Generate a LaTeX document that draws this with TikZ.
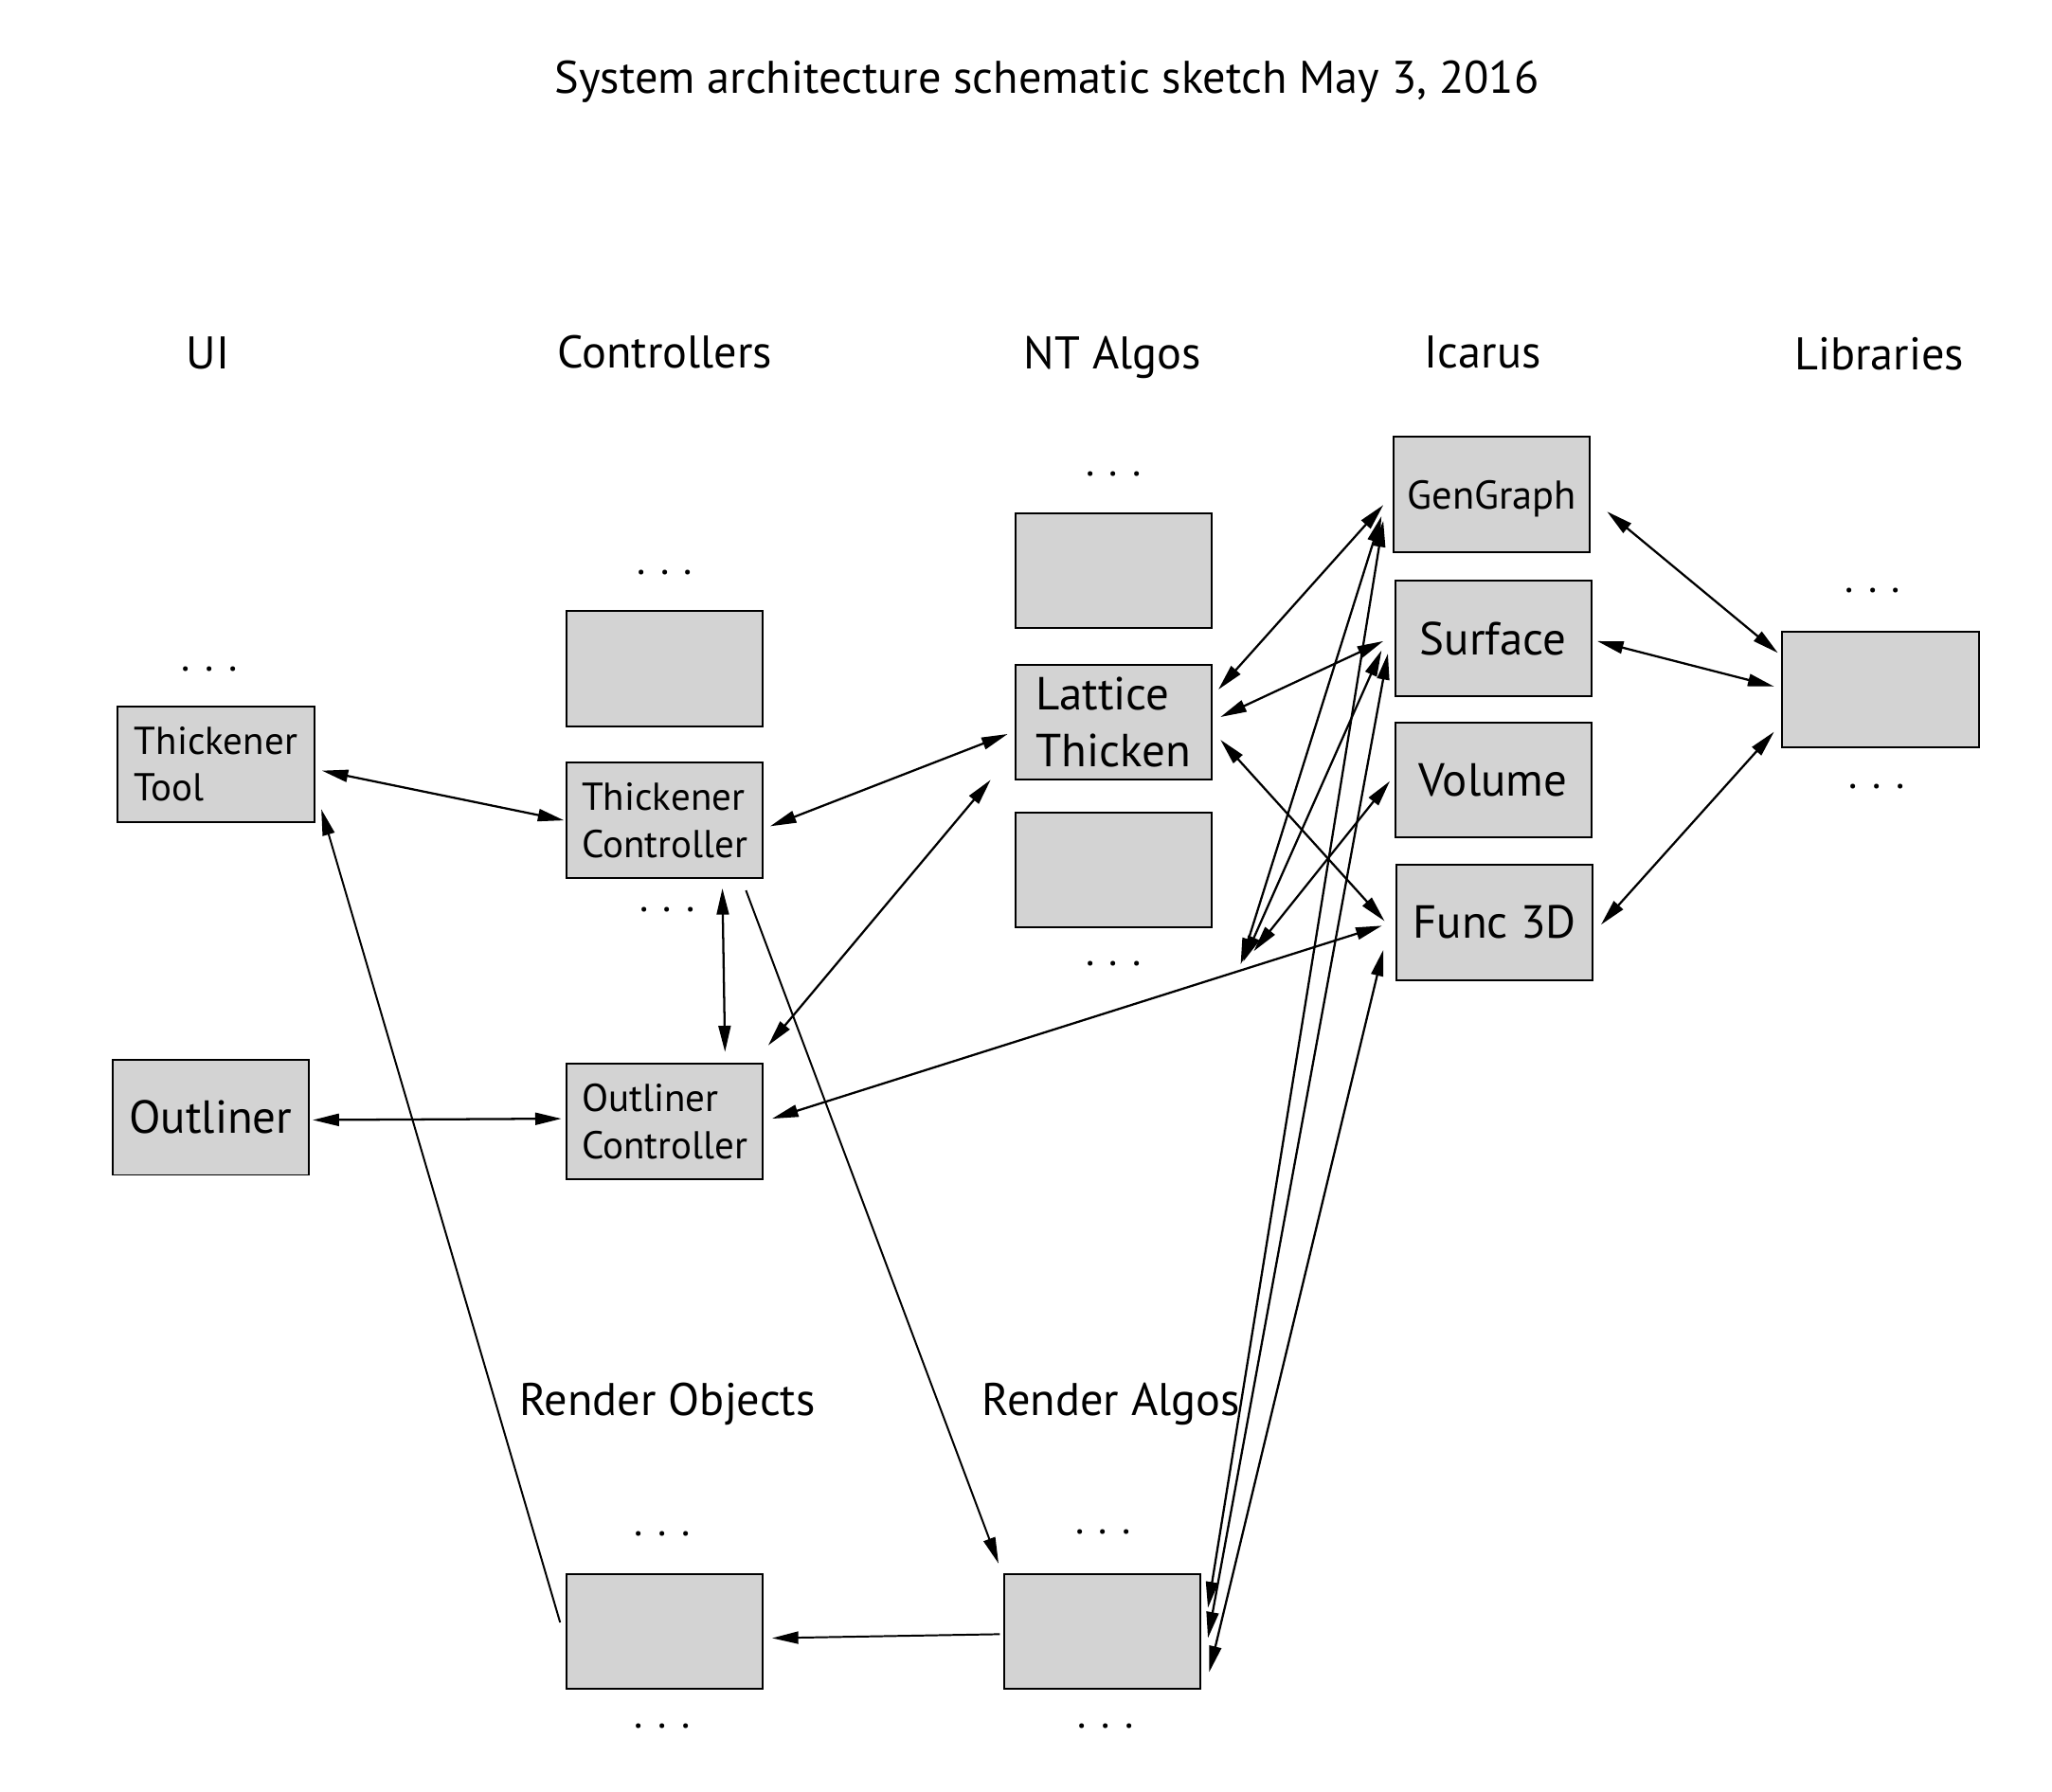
\documentclass[tikz,border=0pt]{standalone}
\usepackage{fontspec}
\setmainfont{PT Sans}
\usetikzlibrary{arrows.meta,calc}
\definecolor{boxgray}{RGB}{211,211,211}
\begin{document}
\begin{tikzpicture}[x=0.7pt,y=-0.7pt,
  box/.style={draw=black, fill=boxgray, line width=1pt, minimum width=105pt, minimum height=61.6pt, inner sep=0pt, outer sep=0pt},
  smalltxt/.style={font=\fontsize{20.8}{25.2}\selectfont},
  ggtxt/.style={font=\fontsize{21.5}{25.2}\selectfont, text depth=0pt},
  bigtxt/.style={font=\fontsize{24.8}{30.8}\selectfont},
  head/.style={font=\fontsize{24.5}{28}\selectfont, anchor=base, inner sep=0pt},
  dots/.style={font=\fontsize{22}{26}\selectfont, anchor=base, inner sep=0pt},
  conn/.style={line width=1.15pt, {Triangle[length=14pt,width=6.5pt]}-{Triangle[length=14pt,width=6.5pt]}},
  oneway/.style={line width=1pt, -{Triangle[length=14pt,width=6.5pt]}}
]
\fill[white] (0,0) rectangle (1568,1369);
\useasboundingbox (0,0) rectangle (1568,1369);

% title and headers
\node[head] (title) at (800,71) {System architecture schematic sketch May 3, 2016};
\node[head] (hUI) at (159,282) {UI};
\node[head] (hCtrl) at (508,281) {Controllers};
\node[head] (hNT) at (850,282) {NT Algos};
\node[head] (hIc) at (1133,281) {Icarus};
\node[head] (hLib) at (1436,283) {Libraries};
\node[head] (hRO) at (510,1082) {Render Objects};
\node[head] (hRA) at (849,1082) {Render Algos};

% boxes
\node[box, smalltxt, align=left] (tt) at (165,584) {Thickener\\Tool};
\node[box, bigtxt] (ol) at (161,854) {Outliner};
\node[box] (c0) at (508,511) {};
\node[box, smalltxt, align=left] (tc) at (508,627) {Thickener\\Controller};
\node[box, smalltxt, align=left] (oc) at (508,857) {Outliner\\Controller};
\node[box] (nt0) at (851,436) {};
\node[box, bigtxt, align=left] (lt) at (851,552) {Lattice\\Thicken};
\node[box] (nt2) at (851,665) {};
\node[box, ggtxt] (gg) at (1140,378) {GenGraph};
\node[box, bigtxt] (sf) at (1141,488) {Surface};
\node[box, bigtxt] (vo) at (1141,596) {Volume};
\node[box, bigtxt] (f3) at (1142,705) {Func 3D};
\node[box] (lib) at (1437,527) {};
\node[box] (ro) at (508,1247) {};
\node[box] (ra) at (842,1247) {};

% dots
\node[dots] (d1) at (160,513) {. . .};
\node[dots] (d2) at (508,439) {. . .};
\node[dots] (d3) at (510,697) {. . .};
\node[dots] (d4) at (851,364) {. . .};
\node[dots] (d5) at (851,738) {. . .};
\node[dots] (d6) at (1431,453) {. . .};
\node[dots] (d7) at (1434,603) {. . .};
\node[dots] (d8) at (506,1174) {. . .};
\node[dots] (d9) at (506,1321) {. . .};
\node[dots] (d10) at (843,1172) {. . .};
\node[dots] (d11) at (845,1321) {. . .};

% connectors
\draw[conn] ([shift={(6,5)}]tt.east) -- ([shift={(-2,0)}]tc.west);
\draw[conn] ([shift={(3,2)}]ol.east) -- ([shift={(-4,-2)}]oc.west);
\draw[conn] ([shift={(44,8)}]tc.south) -- ([shift={(46,-9)}]oc.north);
\draw[conn] ([shift={(5.5,4.5)}]tc.east) -- ([shift={(-6,9)}]lt.west);
\draw[conn] ([shift={(4,-14)}]oc.north east) -- ([shift={(-19,0)}]lt.south west);
\draw[conn] ([shift={(7,-2)}]oc.east) -- ([shift={(-11,2.5)}]f3.west);
\draw[oneway] ([shift={(-5,-7)}]ro.west) -- ([shift={(5.5,34.5)}]tt.east);
\draw[oneway] ([shift={(-13,9.5)}]tc.south east) -- ([shift={(-4,-8)}]ra.north west);
\draw[oneway] ([shift={(-3,2)}]ra.west) -- ([shift={(7,5)}]ro.east);

\draw[conn] ([shift={(5,-25)}]lt.east) -- ([shift={(-8,8)}]gg.west);
\draw[conn] ([shift={(6.6,-4)}]lt.east) -- ([shift={(-9,2)}]sf.west);
\draw[conn] ([shift={(6.6,13.4)}]lt.east) -- ([shift={(-9,-1)}]f3.west);

\draw[conn] ([shift={(22,28)}]nt2.south east) -- ([shift={(-9.4,16.5)}]gg.west);
\draw[conn] ([shift={(24,26)}]nt2.south east) -- ([shift={(-10.3,9)}]sf.west);
\draw[conn] ([shift={(32,18)}]nt2.south east) -- ([shift={(-4,1)}]vo.west);

\draw[conn] ([shift={(6,-18)}]ra.east) -- ([shift={(-8,20)}]gg.west);
\draw[conn] ([shift={(6,5)}]ra.east) -- ([shift={(-5.5,11.5)}]sf.west);
\draw[conn] ([shift={(7,31)}]ra.east) -- ([shift={(-10,21)}]f3.west);

\draw[conn] ([shift={(13,13)}]gg.east) -- ([shift={(-3.5,-28)}]lib.west);
\draw[conn] ([shift={(4.5,2)}]sf.east) -- ([shift={(-6.4,-2.3)}]lib.west);
\draw[conn] ([shift={(6.4,1.7)}]f3.east) -- ([shift={(-6.4,32.3)}]lib.west);
\end{tikzpicture}
\end{document}
